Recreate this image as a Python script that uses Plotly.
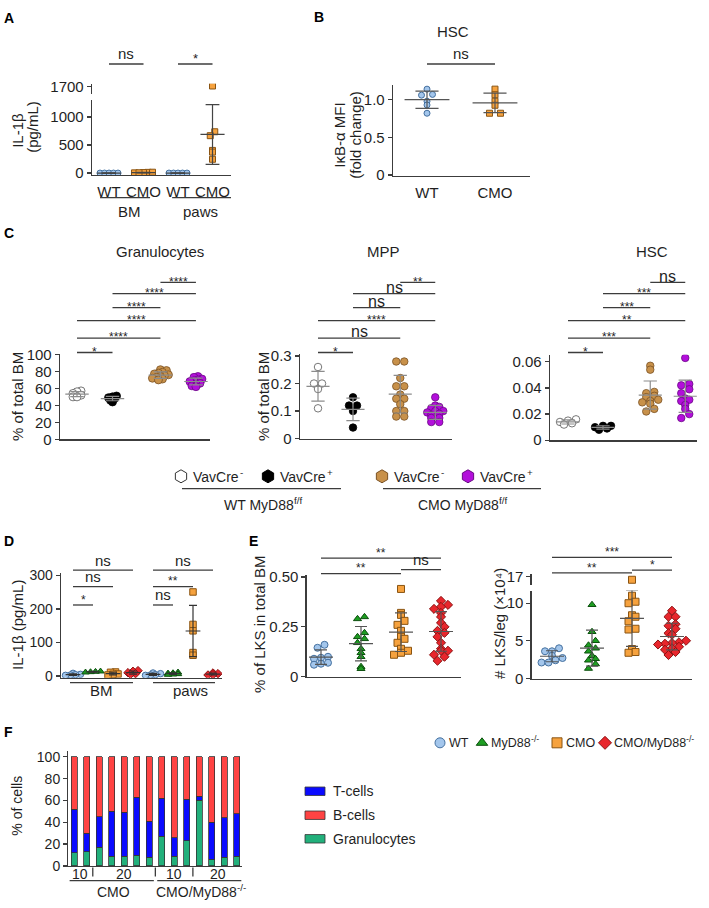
import numpy as np
import plotly.graph_objects as go

W, H = 709, 908
FONT = "Liberation Sans, Arial, Helvetica, sans-serif"
INK = "#1f1f1f"
AXC = "#3c3c3c"

# ======================= DATA =======================
# Panel A : IL-1beta (pg/mL)
A_categories = ["WT", "CMO", "WT", "CMO"]
A_tissues = ["BM", "paws"]
A_wt_bm = [0, 0, 0, 0, 0]
A_cmo_bm = [3, 12, 8, 15, 5]
A_wt_paws = [0, 0, 0, 0, 0]
A_cmo_paws = [1710, 737, 667, 404, 374, 246]
A_sig = ["ns", "*"]

# Panel B : IkB-alpha MFI (fold change) in HSC
B_title = "HSC"
B_categories = ["WT", "CMO"]
B_wt = [1.14, 1.07, 1.06, 0.98, 0.93, 0.82]
B_cmo = [1.14, 1.065, 0.98, 0.926, 0.82, 0.82]
B_sig = ["ns"]

# Panel C : % of total BM
C_titles = ["Granulocytes", "MPP", "HSC"]
C_gran_wt_neg = [57, 56, 54, 52, 50, 50]
C_gran_wt_pos = [51, 50, 49, 48, 46, 44]
C_gran_cmo_neg = [82, 81, 79, 78, 77, 76, 75, 74, 73, 72, 71, 70]
C_gran_cmo_pos = [74, 73, 71, 70, 69, 68, 66, 65, 63, 62]
C_mpp_wt_neg = [0.26, 0.20, 0.20, 0.18, 0.11]
C_mpp_wt_pos = [0.15, 0.12, 0.12, 0.10, 0.04]
C_mpp_cmo_neg = [0.28, 0.28, 0.22, 0.19, 0.19, 0.16, 0.145, 0.145, 0.125, 0.10, 0.10, 0.08, 0.08]
C_mpp_cmo_pos = [0.15, 0.12, 0.115, 0.11, 0.10, 0.10, 0.095, 0.09, 0.085, 0.075, 0.075, 0.06, 0.06]
C_hsc_wt_neg = [0.016, 0.015, 0.014, 0.013, 0.012]
C_hsc_wt_pos = [0.011, 0.011, 0.010, 0.009, 0.008]
C_hsc_cmo_neg = [0.057, 0.054, 0.037, 0.036, 0.034, 0.033, 0.031, 0.030, 0.029, 0.028, 0.024, 0.022]
C_hsc_cmo_pos = [0.063, 0.043, 0.042, 0.039, 0.036, 0.032, 0.031, 0.030, 0.027, 0.024, 0.020, 0.017]
# comparisons (0,1),(0,2),(0,3),(1,2),(1,3),(2,3)
C_sig_gran = ["*", "****", "****", "****", "****", "****"]
C_sig_mpp = ["*", "ns", "****", "ns", "ns", "**"]
C_sig_hsc = ["*", "***", "**", "***", "***", "ns"]
C_legend_cre = [("VavCre", "-"), ("VavCre", "+"), ("VavCre", "-"), ("VavCre", "+")]
C_legend_groups = [("WT MyD88", "f/f"), ("CMO MyD88", "f/f")]

# Panel D : IL-1beta (pg/mL)
D_tissues = ["BM", "paws"]
D_bm_wt = [8, 5, 4, 3, 2]
D_bm_myd88 = [14, 13, 12, 11]
D_bm_cmo = [12, 11, 6, 5, 3]
D_bm_cmomyd = [16, 14, 10, 7, 5]
D_paws_wt = [9, 7, 4, 3, 2]
D_paws_myd88 = [11, 9, 8, 6, 5, 4]
D_paws_cmo = [251, 154, 135, 70, 62]
D_paws_cmomyd = [9, 7, 4, 3]
D_sig_bm = ["*", "ns", "ns"]      # (0,1),(0,2),(0,3)
D_sig_paws = ["ns", "**", "ns"]

# Panel E
E_groups = [("WT", ""), ("MyD88", "-/-"), ("CMO", ""), ("CMO/MyD88", "-/-")]
E_pct_wt = [0.16, 0.145, 0.10, 0.095, 0.09, 0.07, 0.065, 0.06]
E_pct_myd88 = [0.30, 0.29, 0.22, 0.20, 0.19, 0.17, 0.14, 0.12, 0.10, 0.05, 0.04]
E_pct_cmo = [0.44, 0.32, 0.31, 0.28, 0.26, 0.23, 0.20, 0.19, 0.17, 0.14, 0.13, 0.12, 0.11]
E_pct_cmomyd = [0.38, 0.36, 0.35, 0.34, 0.32, 0.30, 0.27, 0.25, 0.23, 0.22, 0.20, 0.17,
                0.14, 0.13, 0.13, 0.11, 0.10, 0.08]
E_num_wt = [4.0, 3.6, 3.6, 3.0, 2.7, 2.4, 2.1, 2.1]
E_num_myd88 = [9.8, 6.2, 5.0, 4.4, 4.0, 3.6, 3.0, 2.6, 2.4, 1.9, 1.3]
E_num_cmo = [16.6, 11.0, 10.2, 10.0, 8.4, 8.2, 7.6, 6.6, 6.5, 3.9, 3.5, 3.4]
E_num_cmomyd = [9.0, 8.2, 8.2, 7.2, 7.0, 6.6, 6.0, 5.8, 5.0, 4.8, 4.7, 4.6, 4.5, 4.2,
                4.0, 3.8, 3.5, 3.1]
E_sig_pct = ["**", "**", "ns"]    # (0,2),(0,3),(2,3)
E_sig_num = ["**", "***", "*"]

# Panel F : % of cells
F_genotype = ["CMO"] * 7 + ["CMO/MyD88"] * 7
F_genotype_sup = {"CMO": "", "CMO/MyD88": "-/-"}
F_week = [10, 10, 20, 20, 20, 20, 20, 10, 10, 10, 20, 20, 20, 20]
F_granulocytes = [12, 13, 17, 9, 9, 10, 8, 27, 9, 23, 60, 6, 8, 9]
F_tcells = [40, 17, 28, 41, 40, 53, 33, 35, 17, 38, 4, 34, 36, 39]
F_bcells = [48, 70, 55, 50, 51, 37, 59, 38, 74, 39, 36, 60, 56, 52]
F_series = ["T-cells", "B-cells", "Granulocytes"]

# ======================= STYLE =======================
STYLE4 = [("circle", "#a3c6ec", "#44709f"),
          ("triangle-up", "#1e9e22", "#0c4f0e"),
          ("square", "#f6a23e", "#8a5412"),
          ("diamond", "#e8262c", "#8b1212")]
STYLE_C = [("circle", "#ffffff", "#555555"),
           ("circle", "#000000", "#000000"),
           ("circle", "#c8914a", "#7a5224"),
           ("circle", "#b30fdb", "#6a0b84")]
F_COLORS = {"T-cells": "#0a0aff", "B-cells": "#ff4343", "Granulocytes": "#22b07b"}
TICK = 15

# Arial / Liberation Sans advance widths (per em) used to place superscripts
ARIAL_W = {"W": .944, "T": .611, " ": .278, "M": .833, "y": .5, "D": .722, "8": .556,
           "C": .722, "O": .778, "/": .278, "f": .278, "-": .333, "+": .584, "V": .667,
           "a": .556, "v": .5, "r": .333, "e": .556}


def str_w(s, size):
    return sum(ARIAL_W.get(c, .556) for c in s) * size


fig = go.Figure()
layout_axes = {}
counts = {"x": 0, "y": 0}
shapes, annos = [], []


def _key(ref):
    return ref[0] + "axis" + ref[1:]


def new_axis(kind, lo, hi, rng, **kw):
    counts[kind] += 1
    n = counts[kind]
    ref = kind if n == 1 else f"{kind}{n}"
    dom = [lo / W, hi / W] if kind == "x" else [1 - hi / H, 1 - lo / H]
    d = dict(domain=dom, range=rng, showgrid=False, zeroline=False, fixedrange=True,
             showline=True, linecolor=AXC, linewidth=1.3,
             tickfont=dict(family=FONT, size=TICK, color=INK))
    if kind == "x":
        d.update(ticks="", showticklabels=False)
    else:
        d.update(ticks="outside", ticklen=4, tickwidth=1.3, tickcolor=AXC)
    d.update(kw)
    layout_axes[_key(ref)] = d
    return ref


def panel(xl, xr, yt, yb, xrng, yrng, xkw=None, ykw=None):
    xa = new_axis("x", xl, xr, xrng, **(xkw or {}))
    ya = new_axis("y", yt, yb, yrng, **(ykw or {}))
    layout_axes[_key(xa)]["anchor"] = ya
    layout_axes[_key(ya)]["anchor"] = xa
    return xa, ya, (xr - xl) / (xrng[1] - xrng[0]), (yb - yt) / abs(yrng[1] - yrng[0])


def extra_y(xa, yt, yb, yrng, **kw):
    ya = new_axis("y", yt, yb, yrng, **kw)
    layout_axes[_key(ya)]["anchor"] = xa
    return ya


# full-figure pixel axes for annotations / decorations
XP, YP, _, _ = panel(0, W, 0, H, [0, W], [H, 0],
                     xkw=dict(visible=False), ykw=dict(visible=False))


def text(x, y, s, size=14, xanchor="center", yanchor="middle", angle=0, bold=False,
         xref=None, color=INK):
    annos.append(dict(x=x, y=y, xref=xref or XP, yref=YP,
                      text=f"<b>{s}</b>" if bold else s, showarrow=False,
                      font=dict(family=FONT, size=size, color=color),
                      xanchor=xanchor, yanchor=yanchor, textangle=angle))


def sup_text(x, y, main, sup, size=14, anchor="left"):
    """main text followed by a superscript, drawn as two plain annotations."""
    wm = str_w(main, size)
    ss = size * 0.7
    total = wm + (str_w(sup, ss) if sup else 0)
    x0 = x if anchor == "left" else x - total / 2
    text(x0, y, main, size=size, xanchor="left")
    if sup:
        text(x0 + wm, y - size * 0.33, sup, size=ss, xanchor="left")


def hline(x0, x1, y, xref=None, color=AXC, width=1.3):
    shapes.append(dict(type="line", xref=xref or XP, yref=YP, x0=x0, x1=x1, y0=y, y1=y,
                       line=dict(color=color, width=width)))


def vline(x, y0, y1, xref=None, color=AXC, width=1.3):
    shapes.append(dict(type="line", xref=xref or XP, yref=YP, x0=x, x1=x, y0=y0, y1=y1,
                       line=dict(color=color, width=width)))


def sig_bar(xref, x0, x1, y, label, star_size=13, ns_size=15, star_gap=8, ns_gap=9):
    hline(x0, x1, y, xref)
    if "*" in label:
        text((x0 + x1) / 2, y - star_gap + 0.22 * star_size, label, size=star_size, xref=xref)
    else:
        text((x0 + x1) / 2, y - ns_gap - 0.08 * ns_size, label, size=ns_size, xref=xref)


def prism_offsets(vals, ppu_y, ppu_x, dy, dx):
    v = np.asarray(vals, float)
    bins = np.round(v * ppu_y / dy).astype(int)
    offs = np.zeros(len(v))
    for b in np.unique(bins):
        idx = np.where(bins == b)[0]
        idx = idx[np.argsort(v[idx], kind="stable")]
        n = len(idx)
        for k, i in enumerate(idx):
            offs[i] = (k - (n - 1) / 2) * dx / ppu_x
    return offs


def dot_panel(xa, ya, positions, groups, styles, size, ppx, ppy, dy, dx, lcol, hm, hc,
              lw=1.2, ya_hi=None, split=None, mlw=1.0):
    for p, vals, (sym, fill, edge) in zip(positions, groups, styles):
        v = np.asarray(vals, float)
        xs = p + prism_offsets(v, ppy, ppx, dy, dx)
        hi = (v >= split) if split is not None else np.zeros(len(v), bool)
        for mask, yax in ((~hi, ya), (hi, ya_hi)):
            if mask.any():
                fig.add_trace(go.Scatter(
                    x=xs[mask], y=v[mask], xaxis=xa, yaxis=yax, mode="markers",
                    marker=dict(symbol=sym, size=size, color=fill, line=dict(color=edge, width=mlw)),
                    hoverinfo="skip", showlegend=False))
    for p, vals in zip(positions, groups):
        v = np.asarray(vals, float)
        m, s = v.mean(), v.std(ddof=1)
        fig.add_trace(go.Scatter(
            x=[p - hm, p + hm, None, p, p, None, p - hc, p + hc, None, p - hc, p + hc],
            y=[m, m, None, m - s, m + s, None, m - s, m - s, None, m + s, m + s],
            xaxis=xa, yaxis=ya, mode="lines", line=dict(color=lcol, width=lw),
            hoverinfo="skip", showlegend=False))


# ======================= PANEL A =======================
A_pos = [0, 1, 2, 3]
xa, ya, ppx, ppy = panel(92, 231, 94, 170, [-0.493, 3.536], [-35, 1298],
                         xkw=dict(showticklabels=True, tickvals=A_pos, ticktext=A_categories,
                                  ticklabelstandoff=3),
                         ykw=dict(tickvals=[0, 500, 1000]))
ya_hi = extra_y(xa, 77, 88, [1560, 1752], tickvals=[1700])
dot_panel(xa, ya, A_pos, [A_wt_bm, A_cmo_bm, A_wt_paws, A_cmo_paws],
          [STYLE4[0], STYLE4[2], STYLE4[0], STYLE4[2]], 6, ppx, ppy, 5, 4.5,
          "#444444", 0.35, 0.2, ya_hi=ya_hi, split=1500)
hline(-0.26, 1.19, 193, xa)
hline(1.83, 3.54, 193, xa)
text(0.6, 207, A_tissues[0], size=15, xref=xa)
text(2.64, 207, A_tissues[1], size=15, xref=xa)
sig_bar(xa, 0, 1, 57, A_sig[0])
sig_bar(xa, 2, 3, 57, A_sig[1])
text(18, 125, "IL-1β", size=15, angle=-90)
text(33, 121, "(pg/mL)", size=15, angle=-90)

# ======================= PANEL B =======================
B_pos = [0, 1]
xb, yb, ppx, ppy = panel(393, 530, 78, 171, [-0.5, 1.515], [-0.013, 1.2],
                         xkw=dict(showticklabels=True, tickvals=B_pos, ticktext=B_categories,
                                  ticklabelstandoff=3),
                         ykw=dict(tickvals=[0, 0.5, 1.0], ticktext=["0", "0.5", "1.0"]))
dot_panel(xb, yb, B_pos, [B_wt, B_cmo], [STYLE4[0], STYLE4[2]], 6, ppx, ppy, 6, 11,
          "#555555", 0.33, 0.17)
text(453, 24, B_title, size=15)
sig_bar(xb, 0, 1, 57, B_sig[0])
text(340, 130, "IκB-α MFI", size=15, angle=-90)
text(356, 129, "(fold change)", size=15, angle=-90)

# ======================= PANEL C =======================
C_pos = [0, 1, 2.35, 3.35]
C_pairs = [(0, 1), (0, 2), (0, 3), (1, 2), (1, 3), (2, 3)]
C_pair_y = [350.7, 336, 318.3, 305, 290.7, 279.3]
C_geom = [
    dict(xl=60, xr=210, x0=77, ppu=35.5, yt=351.8, yb=439, yr=[0, 101],
         tv=[0, 20, 40, 60, 80, 100], tt=None, tx=160, lx=17, dy=4, dx=4, size=8),
    dict(xl=300, xr=452, x0=318, ppu=35, yt=352, yb=438.3, yr=[0, 0.308],
         tv=[0, 0.1, 0.2, 0.3], tt=["0", "0.1", "0.2", "0.3"], tx=383, lx=263, dy=3.5, dx=8, size=7.5),
    dict(xl=550, xr=697, x0=568, ppu=35, yt=353, yb=440, yr=[0, 0.0654],
         tv=[0, 0.02, 0.04, 0.06], tt=["0", "0.02", "0.04", "0.06"], tx=652, lx=None, dy=5, dx=8, size=7.5),
]
C_data = [[C_gran_wt_neg, C_gran_wt_pos, C_gran_cmo_neg, C_gran_cmo_pos],
          [C_mpp_wt_neg, C_mpp_wt_pos, C_mpp_cmo_neg, C_mpp_cmo_pos],
          [C_hsc_wt_neg, C_hsc_wt_pos, C_hsc_cmo_neg, C_hsc_cmo_pos]]
C_sigs = [C_sig_gran, C_sig_mpp, C_sig_hsc]
for g, data, sigs, title in zip(C_geom, C_data, C_sigs, C_titles):
    xrng = [(g["xl"] - g["x0"]) / g["ppu"], (g["xr"] - g["x0"]) / g["ppu"]]
    ykw = dict(tickvals=g["tv"])
    if g["tt"]:
        ykw["ticktext"] = g["tt"]
    xc, yc, ppx, ppy = panel(g["xl"], g["xr"], g["yt"], g["yb"], xrng, g["yr"], ykw=ykw)
    dot_panel(xc, yc, C_pos, data, STYLE_C, g["size"], ppx, ppy, g["dy"], g["dx"],
              "#8c8c8c", 0.33, 0.19, lw=1.2, mlw=0.8)
    text(g["tx"], 248, title, size=15)
    for (i, j), yy, lab in zip(C_pairs, C_pair_y, sigs):
        sig_bar(xc, C_pos[i], C_pos[j], yy, lab, star_size=12, ns_size=16, star_gap=3.5, ns_gap=5)
    if g["lx"] is not None:
        text(g["lx"], 396, "% of total BM", size=15, angle=-90)

# legend of panel C
C_leg_hex_x = [181, 268, 382, 468]
for k, (hx, (main, sup)) in enumerate(zip(C_leg_hex_x, C_legend_cre)):
    sym, fill, edge = STYLE_C[k]
    fig.add_trace(go.Scatter(x=[hx], y=[476.7], xaxis=XP, yaxis=YP, mode="markers",
                             marker=dict(symbol="hexagon", size=13, color=fill,
                                         line=dict(color=edge if k else "#333333", width=1)),
                             hoverinfo="skip", showlegend=False))
    sup_text(hx + 10, 477, main, sup, size=14)
hline(182, 341, 489.3)
hline(383, 541, 489.3)
sup_text(261, 506, *C_legend_groups[0], size=14, anchor="center")
sup_text(461, 506, *C_legend_groups[1], size=14, anchor="center")

# ======================= PANEL D =======================
D_pos = list(range(8))
xd, yd, ppx, ppy = panel(61, 222, 575, 681.7, [-0.6, 7.45], [-5, 308],
                         ykw=dict(tickvals=[0, 100, 200, 300],
                                  tickfont=dict(family=FONT, size=14, color=INK)))
dot_panel(xd, yd, D_pos,
          [D_bm_wt, D_bm_myd88, D_bm_cmo, D_bm_cmomyd,
           D_paws_wt, D_paws_myd88, D_paws_cmo, D_paws_cmomyd],
          STYLE4 + STYLE4, 6.5, ppx, ppy, 5, 5, "#333333", 0.37, 0.2)
hline(-0.15, 3.0, 686.7, xd)
hline(4.0, 7.1, 686.7, xd)
text(1.43, 695, D_tissues[0], size=15, xref=xd)
text(5.85, 695, D_tissues[1], size=15, xref=xd)
D_pairs = [(0, 1), (0, 2), (0, 3)]
D_pair_y = [607.7, 589, 572.3]
for (i, j), yy, lab in zip(D_pairs, D_pair_y, D_sig_bm):
    sig_bar(xd, i, j, yy, lab, star_size=12)
for (i, j), yy, lab in zip(D_pairs, D_pair_y, D_sig_paws):
    sig_bar(xd, i + 4, j + 4, yy, lab, star_size=12)
text(18, 628, "IL-1β (pg/mL)", size=15, angle=-90)

# ======================= PANEL E =======================
E_pos = [0, 1, 2, 3]
E_pairs = [(0, 2), (0, 3), (2, 3)]
xe, ye, ppx, ppy = panel(306.7, 461, 577, 681, [-0.3575, 3.5], [-0.0015, 0.5108],
                         ykw=dict(tickvals=[0, 0.25, 0.5], ticktext=["0", "0.25", "0.50"]))
dot_panel(xe, ye, E_pos, [E_pct_wt, E_pct_myd88, E_pct_cmo, E_pct_cmomyd], STYLE4, 7,
          ppx, ppy, 6, 7, "#555555", 0.3, 0.15)
for (i, j), yy, lab in zip(E_pairs, [575.7, 560, 571.7], E_sig_pct):
    sig_bar(xe, i, j, yy, lab, star_size=12)
text(260, 627, "% of LKS in total BM", size=15, angle=-90)

xe2, ye2, ppx, ppy = panel(531.7, 691.7, 593, 683, [-0.5075, 3.4925], [-0.09, 11.69],
                           ykw=dict(tickvals=[0, 5, 10]))
ye2_hi = extra_y(xe2, 576, 587, [15.95, 17.39], tickvals=[17])
dot_panel(xe2, ye2, E_pos, [E_num_wt, E_num_myd88, E_num_cmo, E_num_cmomyd], STYLE4, 7,
          ppx, ppy, 6, 7, "#555555", 0.3, 0.15, ya_hi=ye2_hi, split=14)
for (i, j), yy, lab in zip(E_pairs, [575, 559.3, 572.3], E_sig_num):
    sig_bar(xe2, i, j, yy, lab, star_size=12)
text(500, 627, "# LKS/leg (×10⁴)", size=15, angle=-90)

# legend of panel E
E_leg_x = [440, 482, 557, 605]
for (hx, (main, sup), (sym, fill, edge)) in zip(E_leg_x, E_groups, STYLE4):
    fig.add_trace(go.Scatter(x=[hx], y=[748], xaxis=XP, yaxis=YP, mode="markers",
                             marker=dict(symbol=sym, size=10, color=fill, line=dict(color=edge, width=1)),
                             hoverinfo="skip", showlegend=False))
    sup_text(hx + 7, 748, main, sup, size=12.5)

# ======================= PANEL F =======================
F_pos = list(range(len(F_week)))
xf, yf, ppx, ppy = panel(68.3, 241.7, 756.7, 873.3, [-0.456, 13.4], [0, 105],
                         ykw=dict(tickvals=[0, 20, 40, 60, 80, 100],
                                  tickfont=dict(family=FONT, size=14, color=INK)))
for name, vals in (("Granulocytes", F_granulocytes), ("T-cells", F_tcells), ("B-cells", F_bcells)):
    fig.add_trace(go.Bar(x=F_pos, y=vals, xaxis=xf, yaxis=yf, width=0.48, name=name,
                         marker=dict(color=F_COLORS[name], line=dict(color="#333333", width=0.8)),
                         hoverinfo="skip", showlegend=False))


def runs(labels):
    out, start = [], 0
    for i in range(1, len(labels) + 1):
        if i == len(labels) or labels[i] != labels[start]:
            out.append((labels[start], start, i - 1))
            start = i
    return out


def fx(v):  # F data position -> pixel x (for composed labels)
    return 68.3 + (v + 0.456) * ppx


wk_runs = runs(list(zip(F_genotype, F_week)))
for k, ((gt, wk), s, e) in enumerate(wk_runs):
    text((s + e) / 2, 882, str(wk), size=14, xref=xf)
    if k > 0:
        vline(s - 0.5, 875, 884, xf)
for gt, s, e in runs(F_genotype):
    hline(s - 0.35, e + 0.38, 888.3, xf)
    sup_text(fx((s + e) / 2), 899.5, gt, F_genotype_sup[gt], size=14, anchor="center")
text(17, 812, "% of cells", size=14, angle=-90)

F_leg_y = [797.3, 821.7, 845.7]
for name, yy in zip(F_series, F_leg_y):
    shapes.append(dict(type="rect", xref=XP, yref=YP, x0=305, x1=325, y0=yy - 4.3, y1=yy + 4.3,
                       fillcolor=F_COLORS[name], line=dict(color="#333333", width=0.8)))
    text(331, yy, name, size=14, xanchor="left")

# ======================= PANEL LETTERS =======================
for lab, x, y in (("A", 2, 10), ("B", 312, 9), ("C", 2, 229), ("D", 2, 543),
                  ("E", 247, 543), ("F", 2, 737)):
    text(x, y, lab, size=14, bold=True, xanchor="left", color="#000000")

fig.update_layout(width=W, height=H, autosize=False, margin=dict(l=0, r=0, t=0, b=0),
                  paper_bgcolor="white", plot_bgcolor="rgba(0,0,0,0)", showlegend=False,
                  barmode="stack", font=dict(family=FONT, color=INK),
                  shapes=shapes, annotations=annos, **layout_axes)

fig.write_html("out.html", include_plotlyjs=True, full_html=True,
               config={"displayModeBar": False, "staticPlot": True},
               post_script="document.body.style.margin='0';")
